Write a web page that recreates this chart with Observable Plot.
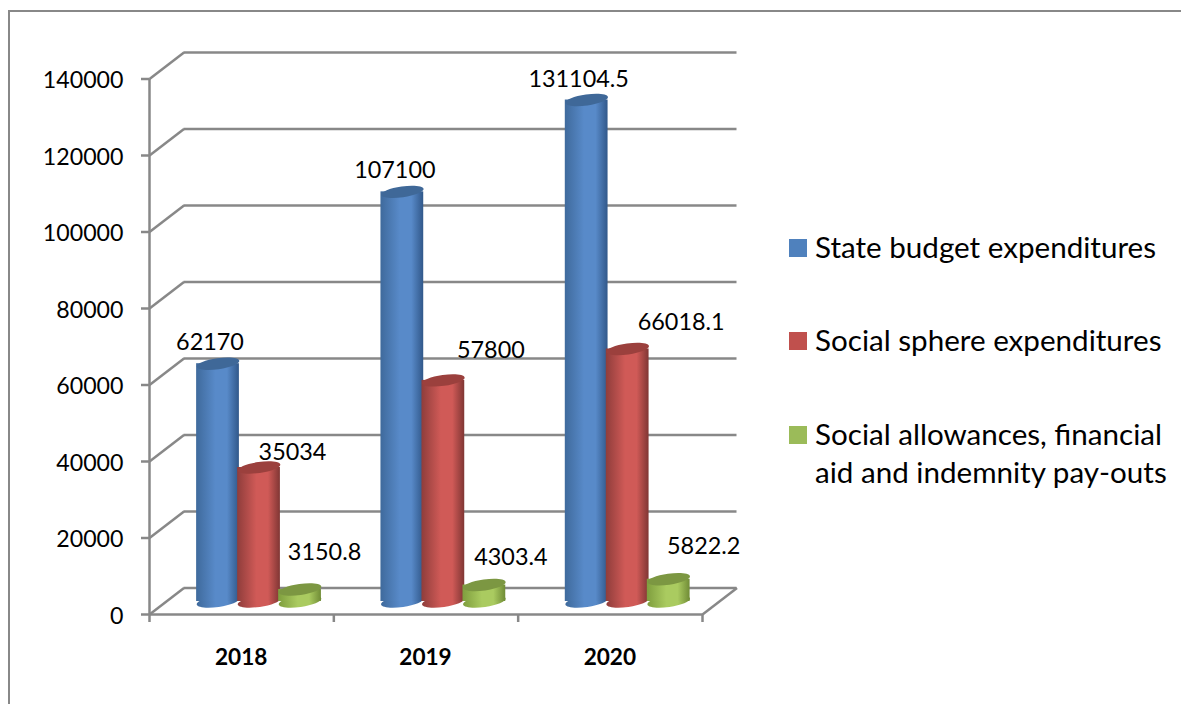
<!DOCTYPE html>
<html>
<head>
<meta charset="utf-8">
<script src="https://cdn.jsdelivr.net/npm/d3@7"></script>
<script src="https://cdn.jsdelivr.net/npm/@observablehq/plot@0.6"></script>
<style>
  html, body { margin: 0; padding: 0; background: #fff; overflow: hidden; }
  #chart { position: relative; width: 1181px; height: 704px; font-family: Lato, "Open Sans", sans-serif; }
  #chart svg { position: absolute; left: 0; top: 0; }
  #frame { position: absolute; left: 8px; top: 10px; right: 0; bottom: 0; border-left: 2.5px solid #888; border-top: 2.5px solid #888; }
  .key { position: absolute; left: 789px; font-size: 29.6px; line-height: 38px; color: #000; white-space: nowrap; }
  .key i { position: absolute; left: 0; width: 18px; height: 18px; }
  .key span { display: block; margin-left: 26px; }
</style>
</head>
<body>
<div id="chart"><div id="frame"></div></div>
<script>
// Budget figures by year
const years = [2018, 2019, 2020];
const stateBudget = [62170, 107100, 131104.5];
const socialSphere = [35034, 57800, 66018.1];
const socialAllowances = [3150.8, 4303.4, 5822.2];
const yTicks = [0, 20000, 40000, 60000, 80000, 100000, 120000, 140000];

const seriesNames = ["State budget expenditures", "Social sphere expenditures", "Social allowances, financial aid and indemnity pay-outs"];
const seriesValues = [stateBudget, socialSphere, socialAllowances];

// Colours for each cylinder: edge, highlight, far edge, cap, legend swatch
const palette = [
  {id: "blue",  left: "#3f6a9c", mid: "#588ac9", right: "#31588a", cap: "#3f6898", key: "#4f81bd"},
  {id: "red",   left: "#8f3d3b", mid: "#d05a57", right: "#803634", cap: "#9b403d", key: "#c0504d"},
  {id: "green", left: "#7f9e3e", mid: "#aacb60", right: "#708c36", cap: "#7c9742", key: "#9bbb59"}
];

// Depth of the chart's box, and where the cylinders stand inside it
const depthX = 34.5, depthY = -26.5;
const midX = 18, midY = -13;
const seriesSlots = [0.274, 0.4965, 0.719];
const halfBar = 0.116;
const grey = "#888";

// Nudges that keep each value label clear of its cylinder, per series then year
const labelNudges = [
  [[-8, -21], [-7.5, -21], [-8, -20.5]],
  [[33.5, -15], [47.5, -30], [53.5, -26.5]],
  [[24.5, -37], [26.5, -27.5], [35, -33]]
];

const rows = seriesValues.map((vals, s) => vals.map((value, i) => ({
  value, year: years[i], slot: i + seriesSlots[s], series: s
})));

// A flat ellipse, slightly tilted, used for the ends of the cylinders
const tiltedEllipse = {
  draw(ctx, size) {
    const rx = Math.sqrt(size / Math.PI), ry = rx * 0.255, t = -8 * Math.PI / 180, k = 0.5523;
    const p = (x, y) => [x * Math.cos(t) - y * Math.sin(t), x * Math.sin(t) + y * Math.cos(t)];
    ctx.moveTo(...p(rx, 0));
    ctx.bezierCurveTo(...p(rx, k * ry), ...p(k * rx, ry), ...p(0, ry));
    ctx.bezierCurveTo(...p(-k * rx, ry), ...p(-rx, k * ry), ...p(-rx, 0));
    ctx.bezierCurveTo(...p(-rx, -k * ry), ...p(-k * rx, -ry), ...p(0, -ry));
    ctx.bezierCurveTo(...p(k * rx, -ry), ...p(rx, -k * ry), ...p(rx, 0));
    ctx.closePath();
  }
};

// The slanted edge joining the front of the box to its back wall
const depthEdge = {
  draw(ctx) {
    ctx.moveTo(0, 0);
    ctx.lineTo(depthX, depthY);
  }
};

// Horizontal shading that rounds the cylinder bodies
function gradients() {
  const defs = d3.create("svg:defs");
  for (const c of palette) {
    const g = defs.append("linearGradient").attr("id", "body-" + c.id);
    g.append("stop").attr("offset", "0%").attr("stop-color", c.left);
    g.append("stop").attr("offset", "45%").attr("stop-color", c.mid);
    g.append("stop").attr("offset", "72%").attr("stop-color", c.mid);
    g.append("stop").attr("offset", "100%").attr("stop-color", c.right);
  }
  return defs.node();
}

const cylinders = rows.flatMap((data, s) => {
  const body = `url(#body-${palette[s].id})`;
  return [
    Plot.dot(data, {x: "slot", y: () => 0, symbol: tiltedEllipse, r: 21.5, fill: body, stroke: "none", dx: midX, dy: midY}),
    Plot.rect(data, {x1: d => d.slot - halfBar, x2: d => d.slot + halfBar, y1: () => 0, y2: "value", fill: body, dx: midX, dy: midY}),
    Plot.dot(data, {x: "slot", y: "value", symbol: tiltedEllipse, r: 21.5, fill: palette[s].cap, stroke: "none", dx: midX, dy: midY})
  ];
});

const valueLabels = rows.flatMap((data, s) => data.map((d, i) =>
  Plot.text([d], {
    x: "slot", y: "value", text: v => String(v.value),
    dx: midX + labelNudges[s][i][0], dy: midY + labelNudges[s][i][1],
    fontSize: 23.4, fill: "#000"
  })
));

const chart = Plot.plot({
  width: 1181,
  height: 704,
  marginLeft: 149,
  marginRight: 479,
  marginTop: 78.5,
  marginBottom: 90,
  style: {background: "transparent", fontFamily: "Lato, 'Open Sans', sans-serif", overflow: "visible"},
  x: {domain: [0, 3], axis: null},
  y: {domain: [0, 140000]},
  marks: [
    gradients,
    // Back wall gridlines and the slanted edges leading to them
    Plot.ruleY(yTicks, {x1: 0, x2: 3, dx: depthX, dy: depthY, stroke: grey, strokeWidth: 2.5}),
    Plot.dot(yTicks, {x: () => 0, y: d => d, symbol: depthEdge, fill: "none", stroke: grey, strokeWidth: 2.5}),
    Plot.dot([0], {x: () => 3, y: d => d, symbol: depthEdge, fill: "none", stroke: grey, strokeWidth: 2.5}),
    // Front edges and tick marks
    Plot.ruleX([0], {y1: 0, y2: 140000, stroke: grey, strokeWidth: 2.5}),
    Plot.ruleY([0], {x1: 0, x2: 3, stroke: grey, strokeWidth: 2.5}),
    Plot.axisY({ticks: yTicks, tickSize: 8, fill: "none", stroke: grey, strokeWidth: 2.5, label: null}),
    Plot.axisY({ticks: yTicks, tickSize: 0, tickPadding: 26, tickFormat: d => String(d), fontSize: 23.2, fill: "#000", dy: 2, label: null}),
    Plot.axisX({ticks: [0, 1, 2, 3], tickSize: 8, fill: "none", stroke: grey, strokeWidth: 2.5, label: null}),
    Plot.text(years, {x: (d, i) => i + 0.5, y: () => 0, text: d => String(d), dx: -0.5, dy: 43, fontSize: 22.6, fontWeight: "bold", fill: "#000"}),
    ...cylinders,
    ...valueLabels
  ]
});

const root = document.getElementById("chart");
root.appendChild(chart);

// Legend to the right of the plot
const keyRows = [
  {top: 228, swatch: 11},
  {top: 321, swatch: 11},
  {top: 415, swatch: 11}
];
seriesNames.forEach((name, s) => {
  const row = document.createElement("div");
  row.className = "key";
  row.style.top = keyRows[s].top + "px";
  const sw = document.createElement("i");
  sw.style.background = palette[s].key;
  sw.style.top = keyRows[s].swatch + "px";
  const label = document.createElement("span");
  label.innerHTML = s === 2 ? "Social allowances, financial<br>aid and indemnity pay-outs" : name;
  row.append(sw, label);
  root.appendChild(row);
});
</script>
</body>
</html>
